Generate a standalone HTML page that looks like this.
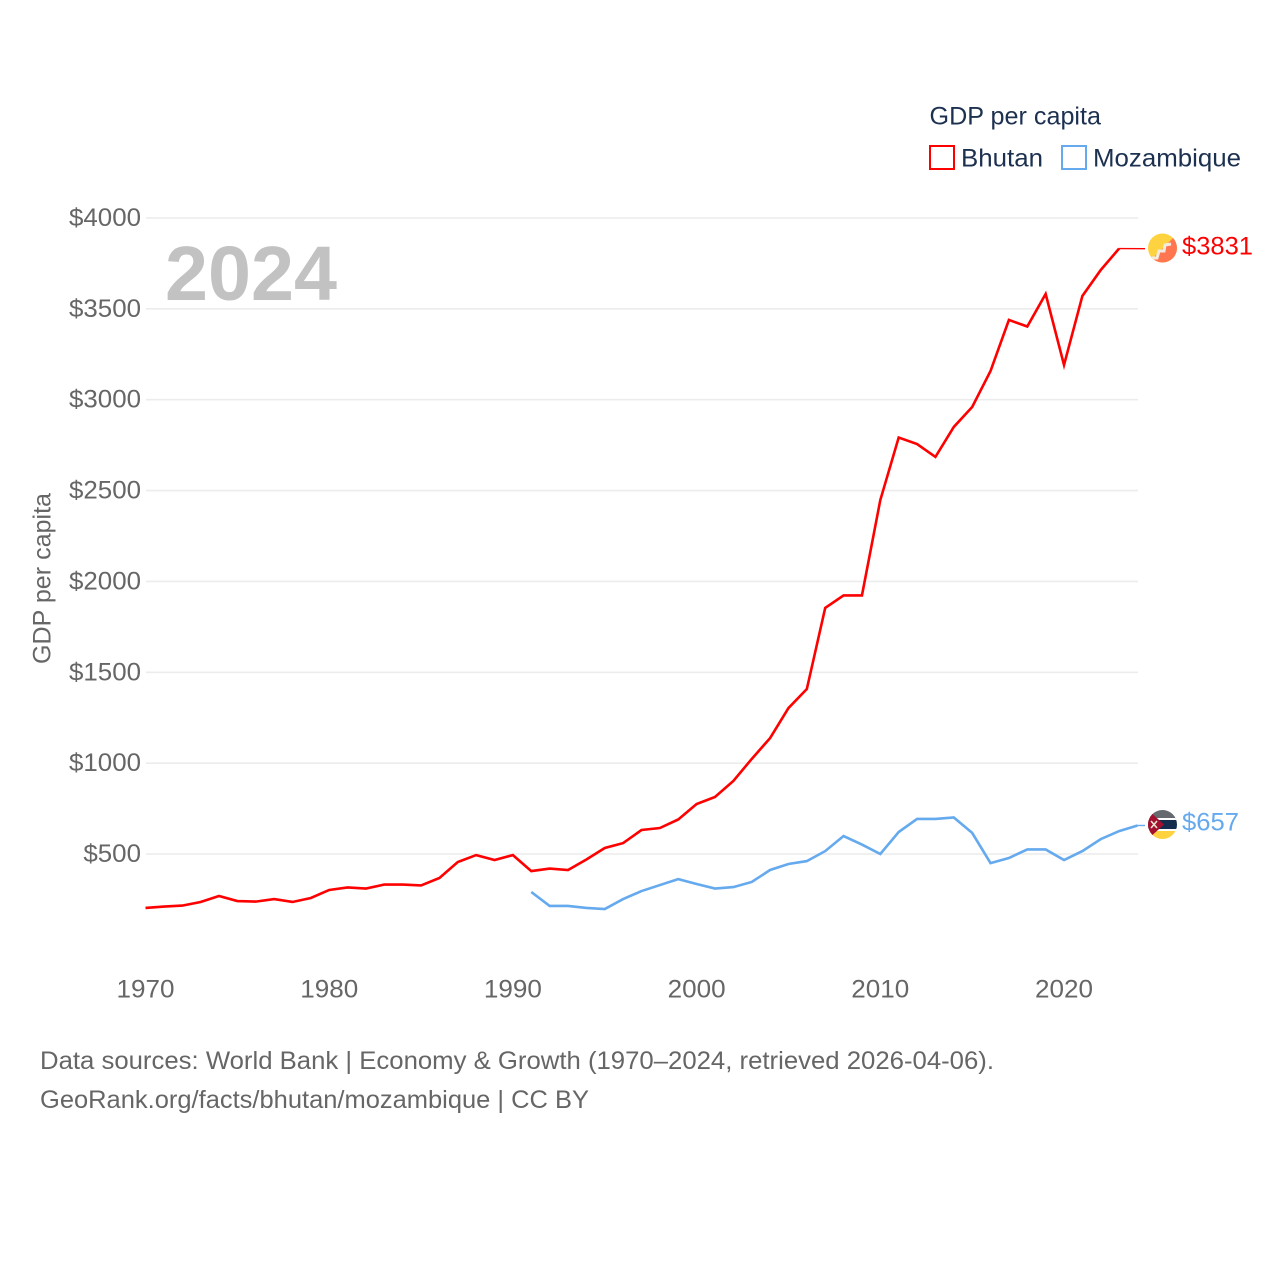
<!DOCTYPE html>
<html lang="en">
<head>
<meta charset="utf-8">
<title>GDP per capita: Bhutan and Mozambique</title>
<style>
html,body{margin:0;padding:0;background:#fff;}
svg{display:block;font-family:"Liberation Sans",sans-serif;}
</style>
</head>
<body>
<svg id="chart" width="1280" height="1280" viewBox="0 0 1280 1280" xmlns="http://www.w3.org/2000/svg">
  <defs>
    <clipPath id="flag-clip-a"><circle cx="1162.5" cy="248" r="14.5"/></clipPath>
    <clipPath id="flag-clip-b"><circle cx="1162.5" cy="824.5" r="14.5"/></clipPath>
  </defs>
  <rect x="0" y="0" width="1280" height="1280" fill="#fff"/>
  <g id="grid"></g>
  <g id="yticks"></g>
  <g id="xticks"></g>
  <text x="165" y="300" font-size="77" font-weight="bold" fill="#c2c2c2" textLength="172" lengthAdjust="spacingAndGlyphs">2024</text>
  <text transform="translate(50.5,664) rotate(-90)" font-size="25" fill="#666" textLength="171" lengthAdjust="spacingAndGlyphs">GDP per capita</text>
  <g id="series"></g>

  <g clip-path="url(#flag-clip-a)">
    <rect x="1147" y="233" width="31" height="31" fill="#ffd23f"/>
    <polygon points="1178,233 1178,264 1147,264" fill="#ff7650"/>
    <path d="M1152,258 L1157,258 L1159,251 L1164,251 L1165,245 L1171,244" fill="none" stroke="#f1ece0" stroke-width="3"/>
  </g>
  <g clip-path="url(#flag-clip-b)">
    <rect x="1147" y="809" width="31" height="10" fill="#66696d"/>
    <rect x="1147" y="818" width="31" height="2" fill="#fff"/>
    <rect x="1147" y="820" width="31" height="9" fill="#152c4f"/>
    <rect x="1147" y="829" width="31" height="2" fill="#fff"/>
    <rect x="1147" y="831" width="31" height="10" fill="#ffd23f"/>
    <polygon points="1147,809 1164,824.5 1147,840" fill="#a3102f"/>
    <path d="M1151,821 L1157,828 M1157,821 L1151,828" stroke="#e8e2d0" stroke-width="1.6"/>
  </g>
  <text x="1182" y="254.5" font-size="25" fill="#ff0000" textLength="71" lengthAdjust="spacingAndGlyphs">$3831</text>
  <text x="1182" y="830.5" font-size="25" fill="#65a9ee" textLength="57" lengthAdjust="spacingAndGlyphs">$657</text>

  <g>
    <text x="929.5" y="124.5" font-size="25" fill="#1c3050" textLength="171.5" lengthAdjust="spacingAndGlyphs">GDP per capita</text>
    <rect x="930" y="146" width="24" height="23" fill="#fff" stroke="#ff0000" stroke-width="2"/>
    <text x="961" y="166.5" font-size="25" fill="#1c3050" textLength="82" lengthAdjust="spacingAndGlyphs">Bhutan</text>
    <rect x="1062" y="146" width="24" height="23" fill="#fff" stroke="#65a9ee" stroke-width="2"/>
    <text x="1093" y="166.5" font-size="25" fill="#1c3050" textLength="148" lengthAdjust="spacingAndGlyphs">Mozambique</text>
  </g>

  <text x="40" y="1069" font-size="25" fill="#666" textLength="954" lengthAdjust="spacingAndGlyphs">Data sources: World Bank | Economy &amp; Growth (1970–2024, retrieved 2026-04-06).</text>
  <text x="40" y="1108" font-size="25" fill="#666" textLength="549" lengthAdjust="spacingAndGlyphs">GeoRank.org/facts/bhutan/mozambique | CC BY</text>
</svg>
<script>
const bhutanStartYear = 1970;
const bhutanValues = [203,211,216,236,269,241,238,252,236,258,302,316,310,332,332,327,368,456,494,467,494,406,420,412,470,533,560,632,643,690,775,814,902,1023,1138,1303,1408,1854,1923,1923,2448,2792,2756,2685,2850,2960,3158,3439,3403,3582,3191,3571,3714,3832];
const bhutanLastYear = 2024;
const bhutanLastValue = 3831;
const mozambiqueStartYear = 1991;
const mozambiqueValues = [291,214,214,203,197,252,296,329,362,335,310,318,346,412,445,461,516,599,552,500,621,693,693,701,616,450,478,525,525,467,516,582,626,657];
const yTickValues = [500,1000,1500,2000,2500,3000,3500,4000];
const yTickLabels = ["$500","$1000","$1500","$2000","$2500","$3000","$3500","$4000"];
const xTickValues = [1970,1980,1990,2000,2010,2020];
const xTickLabels = ["1970","1980","1990","2000","2010","2020"];

const NS = "http://www.w3.org/2000/svg";
function xScale(year){ return 145.5 + (year - 1970) * (1137.5 - 145.5) / 54; }
function yScale(v){ return 854 - (v - 500) * (854 - 218) / 3500; }
function make(tag, parent, attrs, text){
  const el = document.createElementNS(NS, tag);
  for (const k in attrs) el.setAttribute(k, attrs[k]);
  if (text !== undefined) el.textContent = text;
  parent.appendChild(el);
  return el;
}
const grid = document.getElementById("grid");
const yticks = document.getElementById("yticks");
const xticks = document.getElementById("xticks");
const series = document.getElementById("series");

yTickValues.forEach(function(v, i){
  const line = make("line", grid, {x1:146, x2:1138, y1:yScale(v), y2:yScale(v), stroke:"#ececec", "stroke-width":1.6});
  
  
  const w = yTickLabels[i].length * 14.4;
  const label = make("text", yticks, {x:141 - w, y:yScale(v)+8, "font-size":25, fill:"#666", textLength:w, lengthAdjust:"spacingAndGlyphs"}, yTickLabels[i]);
  
  
});
xTickValues.forEach(function(v, i){
  const label = make("text", xticks, {x:xScale(v) - 29, y:997.5, "font-size":25, fill:"#666", textLength:58, lengthAdjust:"spacingAndGlyphs"}, xTickLabels[i]);
  
  
});
function pointsFor(startYear, values){
  return values.map(function(v, i){ return xScale(startYear + i).toFixed(2) + "," + yScale(v).toFixed(2); }).join(" ");
}
const bhutanLine = make("polyline", series, {points:pointsFor(bhutanStartYear, bhutanValues), fill:"none", stroke:"#ff0000", "stroke-width":2.6, "stroke-linejoin":"miter"});


const bhutanEnd = make("line", series, {x1:xScale(bhutanStartYear + bhutanValues.length - 1), y1:yScale(bhutanValues[bhutanValues.length - 1]), x2:xScale(bhutanLastYear) + 7.5, y2:yScale(bhutanLastValue), stroke:"#ff0000", "stroke-width":1.4});


const mozLine = make("polyline", series, {points:pointsFor(mozambiqueStartYear, mozambiqueValues), fill:"none", stroke:"#65a9ee", "stroke-width":2.6});


const mozEnd = make("line", series, {x1:xScale(2024), y1:yScale(mozambiqueValues[mozambiqueValues.length - 1]), x2:xScale(2024) + 7.5, y2:yScale(mozambiqueValues[mozambiqueValues.length - 1]), stroke:"#65a9ee", "stroke-width":1.4});


</script>
</body>
</html>
